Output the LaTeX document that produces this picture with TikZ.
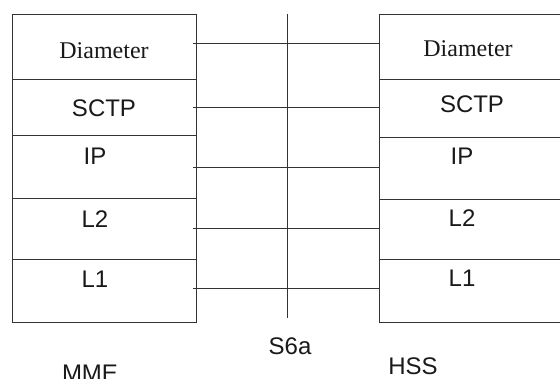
\documentclass[tikz,border=0pt]{standalone}
\usepackage{fontspec}
\setmainfont{Liberation Sans}
\newfontfamily\serifnm{Liberation Serif}
\begin{document}
\begin{tikzpicture}[x=1pt,y=-1pt,
  ln/.style={draw=black!80,line width=1pt},
  layer/.style={ln,rectangle,inner sep=0pt,anchor=north west},
  lbl/.style={anchor=base,inner sep=0pt,font=\fontsize{24}{24}\selectfont,text=black!90},
  slbl/.style={anchor=base,inner sep=0pt,font=\serifnm\fontsize{24}{24}\selectfont,text=black!90}]
\useasboundingbox (0,0) rectangle (560,378);
\clip (0,0) rectangle (560,378);
% MME stack
\node[layer,minimum width=184pt,minimum height=65pt] (mDia) at (12,14) {};
\node[layer,minimum width=184pt,minimum height=56pt] (mSctp) at (12,79) {};
\node[layer,minimum width=184pt,minimum height=63pt] (mIp) at (12,135) {};
\node[layer,minimum width=184pt,minimum height=61pt] (mL2) at (12,198) {};
\node[layer,minimum width=184pt,minimum height=63pt] (mL1) at (12,259) {};
% HSS stack
\node[layer,minimum width=190pt,minimum height=65pt] (hDia) at (379,14) {};
\node[layer,minimum width=190pt,minimum height=58pt] (hSctp) at (379,79) {};
\node[layer,minimum width=190pt,minimum height=62pt] (hIp) at (379,137) {};
\node[layer,minimum width=190pt,minimum height=60pt] (hL2) at (379,199) {};
\node[layer,minimum width=190pt,minimum height=63pt] (hL1) at (379,259) {};
% labels
\node[slbl] (tmDia) at (104,58) {Diameter};
\node[lbl] (tmSctp) at (104,116) {SCTP};
\node[lbl] (tmIp) at (95,164) {IP};
\node[lbl] (tmL2) at (95,227) {L2};
\node[lbl] (tmL1) at (95,287) {L1};
\node[slbl] (thDia) at (468,56) {Diameter};
\node[lbl] (thSctp) at (472,112) {SCTP};
\node[lbl] (thIp) at (462,164) {IP};
\node[lbl] (thL2) at (462,226) {L2};
\node[lbl] (thL1) at (462,286) {L1};
\node[lbl] (ts6a) at (290,354) {S6a};
\node[lbl] (thss) at (413,374) {HSS};
\node[lbl] (tmme) at (90,381) {MME};
% reference point
\coordinate (rtop) at (287,14);
\coordinate (rbot) at (287,318);
\draw[ln] (rtop) -- (rbot);
% peer connectors
\foreach \y/\n in {43/a,107/b,167/c,228/d,288/e}{
  \coordinate (l\n) at (193,\y);
  \coordinate (r\n) at (379,\y);
  \draw[ln] (l\n) -- (r\n);
}
\end{tikzpicture}
\end{document}
